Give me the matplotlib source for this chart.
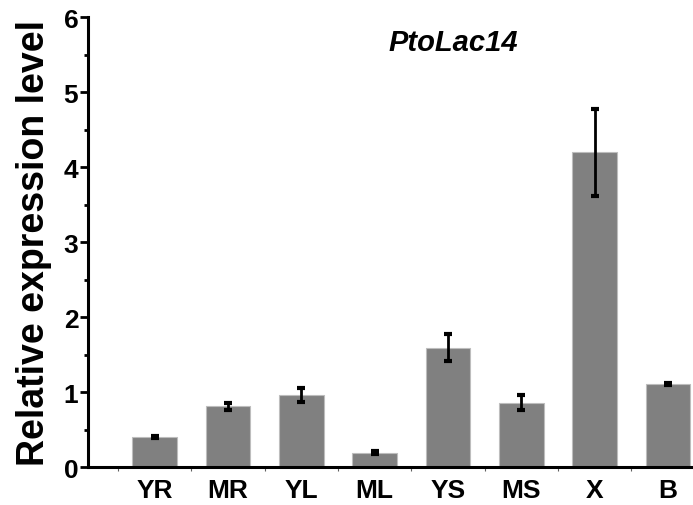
import matplotlib
matplotlib.use("Agg")
import matplotlib.pyplot as plt
import numpy as np
from matplotlib.ticker import MultipleLocator, FixedLocator

# tissues and relative expression (mean, error)
tissues = ["YR", "MR", "YL", "ML", "YS", "MS", "X", "B"]
expression = [0.40, 0.81, 0.96, 0.19, 1.59, 0.86, 4.20, 1.11]
errors = [0.01, 0.05, 0.09, 0.02, 0.18, 0.095, 0.58, 0.01]

plt.rcParams['font.family'] = ['Liberation Sans', 'DejaVu Sans']

fig = plt.figure(figsize=(6.93, 5.06), dpi=100)
ax = fig.add_axes([0.127, 0.075, 0.873, 0.889])

x = np.arange(len(tissues))
ax.bar(x, expression, width=0.61, color="#808080", edgecolor="#bdbdbd",
       linewidth=0.8, zorder=2)
ax.errorbar(x, expression, yerr=errors, fmt="none", ecolor="black",
            elinewidth=2, capsize=3, capthick=3, zorder=3)

ax.set_xlim(-0.91, 7.34)
ax.set_ylim(0, 6)

ax.spines['top'].set_visible(False)
ax.spines['right'].set_visible(False)
ax.spines['left'].set_linewidth(2.2)
ax.spines['bottom'].set_linewidth(2.2)

ax.yaxis.set_major_locator(MultipleLocator(1))
ax.yaxis.set_minor_locator(MultipleLocator(0.5))
ax.tick_params(axis='y', which='major', length=6, width=2, labelsize=19, pad=1)
ax.tick_params(axis='y', which='minor', length=3, width=2)
for lab in ax.get_yticklabels():
    lab.set_fontweight('bold')

# category boundaries carry small ticks; labels sit at bar centres
ax.xaxis.set_major_locator(FixedLocator(x))
ax.set_xticklabels(tissues, fontsize=19, fontweight='bold')
ax.xaxis.set_minor_locator(FixedLocator(np.arange(-0.5, 7.5, 1)))
ax.tick_params(axis='x', which='major', length=0, pad=8)
ax.tick_params(axis='x', which='minor', length=3, width=0.8, color="#606060")

ax.set_ylabel("Relative expression level", fontsize=27, fontweight='bold', labelpad=8)
ax.text(4.07, 5.67, "PtoLac14", fontsize=21, fontweight='bold', style='italic',
        ha='center', va='center')

fig.savefig("out.png", dpi=100)
